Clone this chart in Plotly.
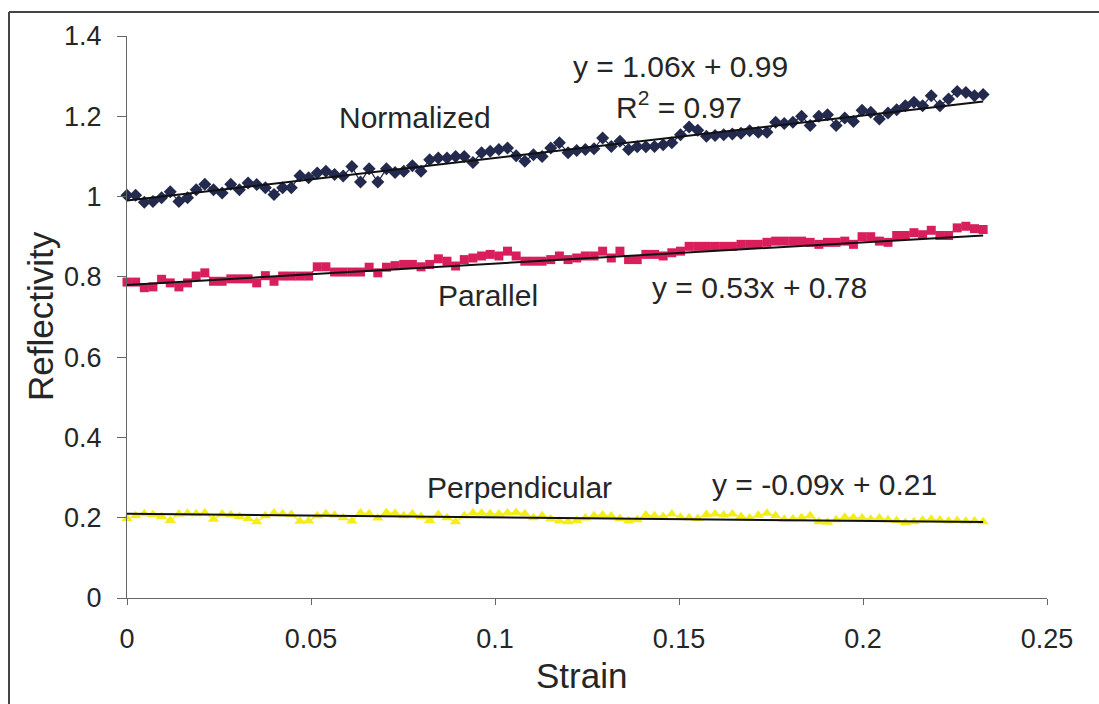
import plotly.graph_objects as go

# Strain samples (uniform steps of the tensile stage)
STRAIN_STEP = 0.00235
strain = [round(i * STRAIN_STEP, 5) for i in range(100)]

normalized = [
    1.003, 1.003, 0.986, 0.988, 0.997, 1.012, 0.988, 0.997, 1.017, 1.031,
    1.017, 1.009, 1.031, 1.017, 1.034, 1.030, 1.022, 1.005, 1.022, 1.022,
    1.052, 1.047, 1.059, 1.063, 1.055, 1.051, 1.075, 1.036, 1.069, 1.036,
    1.069, 1.060, 1.063, 1.077, 1.063, 1.092, 1.096, 1.096, 1.100, 1.100,
    1.085, 1.109, 1.113, 1.117, 1.121, 1.102, 1.088, 1.104, 1.100, 1.121,
    1.134, 1.109, 1.115, 1.117, 1.119, 1.146, 1.125, 1.138, 1.117, 1.124,
    1.124, 1.125, 1.129, 1.134, 1.154, 1.173, 1.165, 1.150, 1.152, 1.154,
    1.156, 1.158, 1.164, 1.160, 1.160, 1.185, 1.182, 1.185, 1.200, 1.177,
    1.200, 1.204, 1.177, 1.196, 1.187, 1.215, 1.210, 1.193, 1.208, 1.216,
    1.226, 1.235, 1.226, 1.251, 1.226, 1.243, 1.262, 1.259, 1.251, 1.254,
]

parallel = [
    0.787, 0.787, 0.773, 0.775, 0.794, 0.785, 0.775, 0.785, 0.802, 0.810,
    0.789, 0.789, 0.795, 0.795, 0.795, 0.785, 0.803, 0.789, 0.802, 0.802,
    0.802, 0.802, 0.825, 0.825, 0.812, 0.812, 0.812, 0.812, 0.824, 0.810,
    0.824, 0.828, 0.831, 0.831, 0.825, 0.831, 0.845, 0.839, 0.827, 0.843,
    0.847, 0.852, 0.856, 0.852, 0.864, 0.852, 0.839, 0.839, 0.839, 0.843,
    0.852, 0.843, 0.847, 0.852, 0.852, 0.864, 0.847, 0.864, 0.843, 0.843,
    0.856, 0.856, 0.852, 0.860, 0.864, 0.876, 0.876, 0.876, 0.876, 0.876,
    0.876, 0.881, 0.881, 0.881, 0.886, 0.889, 0.889, 0.889, 0.889, 0.886,
    0.881, 0.886, 0.886, 0.889, 0.881, 0.900, 0.900, 0.889, 0.886, 0.903,
    0.903, 0.910, 0.905, 0.916, 0.903, 0.903, 0.922, 0.926, 0.920, 0.918,
]

perpendicular = [
    0.198, 0.205, 0.210, 0.208, 0.203, 0.193, 0.209, 0.211, 0.210, 0.212,
    0.196, 0.209, 0.207, 0.203, 0.198, 0.190, 0.205, 0.212, 0.210, 0.208,
    0.191, 0.192, 0.205, 0.210, 0.206, 0.200, 0.192, 0.212, 0.210, 0.199,
    0.213, 0.211, 0.205, 0.210, 0.203, 0.193, 0.208, 0.200, 0.190, 0.205,
    0.212, 0.211, 0.210, 0.209, 0.212, 0.213, 0.210, 0.200, 0.205, 0.197,
    0.192, 0.190, 0.193, 0.199, 0.205, 0.207, 0.204, 0.198, 0.192, 0.195,
    0.207, 0.205, 0.203, 0.209, 0.201, 0.200, 0.198, 0.208, 0.209, 0.207,
    0.209, 0.203, 0.199, 0.206, 0.211, 0.205, 0.196, 0.197, 0.200, 0.205,
    0.190, 0.189, 0.195, 0.201, 0.200, 0.199, 0.196, 0.199, 0.195, 0.193,
    0.188, 0.190, 0.194, 0.196, 0.194, 0.192, 0.193, 0.191, 0.192, 0.190,
]

# Linear fits (slope, intercept) for each polarisation
series_names = ["Normalized", "Parallel", "Perpendicular"]
fit_slope = [1.06, 0.53, -0.09]
fit_intercept = [0.99, 0.78, 0.21]

x_tick_vals = [0, 0.05, 0.1, 0.15, 0.2, 0.25]
x_tick_text = ["0", "0.05", "0.1", "0.15", "0.2", "0.25"]
y_tick_vals = [0, 0.2, 0.4, 0.6, 0.8, 1.0, 1.2, 1.4]
y_tick_text = ["0", "0.2", "0.4", "0.6", "0.8", "1", "1.2", "1.4"]

FONT = "Liberation Sans, Arial, sans-serif"
TEXT = "#262626"
W, H = 1099, 704
L, R, T, B = 127, 52, 36, 106
PW, PH = W - L - R, H - T - B


def px(xp):
    return (xp - L) / PW


def py(yp):
    return (H - B - yp) / PH


styles = [
    dict(color="#232a4d", symbol="diamond", size=10),
    dict(color="#d81f5c", symbol="square", size=9),
    dict(color="#f3ee1a", symbol="triangle-up", size=10),
]
values = [normalized, parallel, perpendicular]

fig = go.Figure()
for name, vals, st in zip(series_names, values, styles):
    fig.add_trace(go.Scatter(
        x=strain, y=vals, mode="lines+markers", name=name,
        line=dict(color=st["color"], width=1.2),
        marker=dict(color=st["color"], symbol=st["symbol"], size=st["size"],
                    line=dict(width=0)),
        cliponaxis=False, showlegend=False,
    ))

x0, x1 = strain[0], strain[-1]
for m, c in zip(fit_slope, fit_intercept):
    fig.add_trace(go.Scatter(
        x=[x0, x1], y=[m * x0 + c, m * x1 + c], mode="lines",
        line=dict(color="#111111", width=2),
        cliponaxis=False, showlegend=False, hoverinfo="skip",
    ))

ann_font = dict(family=FONT, size=30, color=TEXT)
labels = [
    ("y = 1.06x + 0.99", 680, 66),
    ("R<sup>2</sup> = 0.97", 679, 105),
    ("Normalized", 415, 118),
    ("Parallel", 488, 295),
    ("y = 0.53x + 0.78", 759, 287),
    ("Perpendicular", 519, 487),
    ("y = -0.09x + 0.21", 824, 484),
]
for text, xp, yp in labels:
    fig.add_annotation(
        text=text, x=px(xp), y=py(yp), xref="paper", yref="paper",
        xanchor="center", yanchor="middle", showarrow=False, font=ann_font,
    )

# Axis titles
title_font = dict(family=FONT, size=35, color=TEXT)
fig.add_annotation(text="Strain", x=px(581), y=py(676), xref="paper",
                   yref="paper", xanchor="center", yanchor="middle",
                   showarrow=False, font=title_font)
fig.add_annotation(text="Reflectivity", x=px(40), y=py(316), xref="paper",
                   yref="paper", xanchor="center", yanchor="middle",
                   textangle=-90, showarrow=False, font=title_font)

# Chart-area frame (left and top edges)
frame = dict(color="#444444", width=2)
fig.add_shape(type="line", xref="paper", yref="paper",
              x0=px(9), x1=px(9), y0=py(12), y1=py(704), line=frame)
fig.add_shape(type="line", xref="paper", yref="paper",
              x0=px(9), x1=px(1099), y0=py(12), y1=py(12), line=frame)

axis_common = dict(
    showgrid=False, zeroline=False, showline=True, linecolor="#666666",
    linewidth=1, ticks="outside", tickcolor="#666666", tickwidth=1,
    tickfont=dict(family=FONT, size=27, color=TEXT),
)
fig.update_xaxes(
    range=[0, 0.25], tickvals=x_tick_vals, ticktext=x_tick_text,
    ticklen=6, ticklabelstandoff=11,
    **axis_common,
)
fig.update_yaxes(
    range=[0, 1.4], tickvals=y_tick_vals, ticktext=y_tick_text,
    ticklen=9, ticklabelstandoff=10,
    **axis_common,
)
fig.update_layout(
    width=W, height=H, autosize=False,
    margin=dict(l=L, r=R, t=T, b=B),
    paper_bgcolor="white", plot_bgcolor="white",
    font=dict(family=FONT, color=TEXT),
)

fig.write_html("out.html")
